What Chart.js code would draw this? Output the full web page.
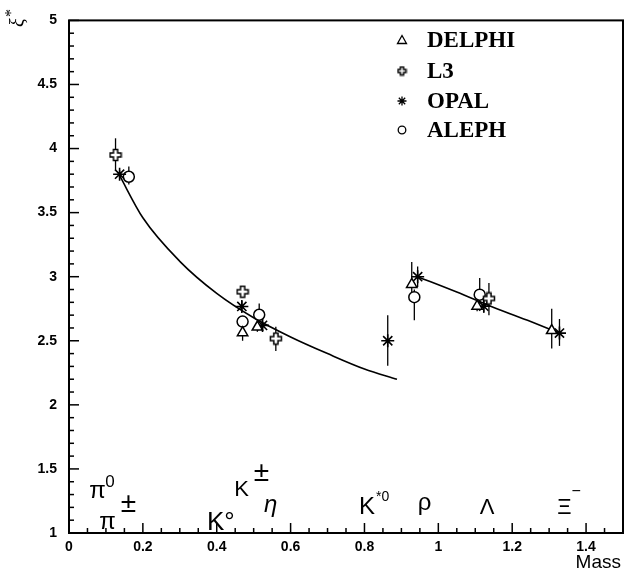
<!DOCTYPE html>
<html>
<head>
<meta charset="utf-8">
<script src="https://cdn.jsdelivr.net/npm/chart.js@4.4.0/dist/chart.umd.min.js"></script>
<style>
  html, body { margin: 0; padding: 0; background: #fff; }
  canvas { display: block; }
</style>
</head>
<body>
<canvas id="chart" width="624" height="573"></canvas>
<script>
// ===== DATA =====
const delphiMass = [0.470, 0.510, 0.928, 1.105, 1.307];
const delphiXi   = [2.563, 2.607, 2.94, 2.77, 2.58];
const delphiLo   = [2.50, 2.57, 2.86, 2.73, 2.44];
const delphiHi   = [2.62, 2.65, 3.115, 2.81, 2.75];

const l3Mass = [0.126, 0.470, 0.560, 1.137];
const l3Xi   = [3.95, 2.883, 2.517, 2.83];
const l3Lo   = [3.83, 2.85, 2.42, 2.70];
const l3Hi   = [4.08, 2.92, 2.61, 2.95];

const opalMass = [0.137, 0.468, 0.524, 0.863, 0.944, 1.123, 1.328];
const opalXi   = [3.80, 2.768, 2.62, 2.50, 3.00, 2.77, 2.56];
const opalLo   = [3.77, 2.73, 2.58, 2.305, 2.92, 2.72, 2.46];
const opalHi   = [3.83, 2.81, 2.66, 2.70, 3.08, 2.82, 2.67];

const alephMass = [0.162, 0.470, 0.515, 0.935, 1.112];
const alephXi   = [3.78, 2.65, 2.703, 2.84, 2.86];
const alephLo   = [3.72, 2.61, 2.66, 2.66, 2.79];
const alephHi   = [3.86, 2.69, 2.79, 2.90, 2.99];

// fitted curves
const mesonFitMass = [0.135, 0.2, 0.3, 0.4, 0.5, 0.6, 0.7, 0.8, 0.888];
const mesonFitXi   = [3.80, 3.46, 3.12, 2.87, 2.68, 2.53, 2.40, 2.28, 2.20];
const baryonFitMass = [0.944, 1.05, 1.15, 1.25, 1.328];
const baryonFitXi   = [3.00, 2.88, 2.76, 2.65, 2.56];

const experiments = ["DELPHI", "L3", "OPAL", "ALEPH"];
const xTicks = [0, 0.2, 0.4, 0.6, 0.8, 1, 1.2, 1.4];

// particle names along the bottom
const particleLabels = [
    { text: "π", x: 0.077, y: 1.276, size: 24 },
    { text: "0", x: 0.111, y: 1.360, size: 17 },
    { text: "π", x: 0.104, y: 1.031, size: 24 },
    { text: "±", x: 0.161, y: 1.161, size: 28 },
    { text: "K°", x: 0.411, y: 1.027, size: 26 },
    { text: "K", x: 0.467, y: 1.287, size: 22 },
    { text: "±", x: 0.521, y: 1.409, size: 28 },
    { text: "η", x: 0.546, y: 1.161, size: 24, italic: true },
    { text: "K", x: 0.807, y: 1.150, size: 24 },
    { text: "*0", x: 0.849, y: 1.250, size: 14 },
    { text: "ρ", x: 0.963, y: 1.176, size: 24 },
    { text: "Λ", x: 1.132, y: 1.150, size: 22 },
    { text: "Ξ", x: 1.341, y: 1.150, size: 22 },
    { text: "−", x: 1.373, y: 1.285, size: 16 }
];

const pts = (m, v) => m.map((x, i) => ({ x, y: v[i] }));
const fmt = v => String(Number(Number(v).toFixed(1)));

// open "plus" marker used by L3
function plusMarker(r, a) {
    const c = document.createElement("canvas");
    const s = Math.ceil(2 * r + 3);
    c.width = s; c.height = s;
    const g = c.getContext("2d");
    const o = s / 2;
    g.translate(o, o);
    g.beginPath();
    g.moveTo(-a, -r); g.lineTo(a, -r); g.lineTo(a, -a); g.lineTo(r, -a);
    g.lineTo(r, a); g.lineTo(a, a); g.lineTo(a, r); g.lineTo(-a, r);
    g.lineTo(-a, a); g.lineTo(-r, a); g.lineTo(-r, -a); g.lineTo(-a, -a);
    g.closePath();
    g.fillStyle = "#fff";
    g.fill();
    g.lineWidth = 1.5;
    g.strokeStyle = "#000";
    g.stroke();
    return c;
}
const l3Big = plusMarker(5.5, 2.1);
const l3Small = plusMarker(4, 1.6);

const errSets = [
    [delphiMass, delphiLo, delphiHi],
    [l3Mass, l3Lo, l3Hi],
    [opalMass, opalLo, opalHi],
    [alephMass, alephLo, alephHi]
];

// ===== DECORATION PLUGIN =====
const decor = {
    id: "decor",
    beforeDatasetsDraw(chart) {
        const { ctx, scales: { x, y } } = chart;
        ctx.save();
        ctx.strokeStyle = "#000";
        ctx.lineWidth = 1.3;
        errSets.forEach(([m, lo, hi]) => {
            m.forEach((mv, i) => {
                const px = x.getPixelForValue(mv);
                ctx.beginPath();
                ctx.moveTo(px, y.getPixelForValue(lo[i]));
                ctx.lineTo(px, y.getPixelForValue(hi[i]));
                ctx.stroke();
            });
        });
        ctx.restore();
    },
    afterDraw(chart) {
        const { ctx, chartArea: a, scales: { x, y } } = chart;
        ctx.save();
        ctx.strokeStyle = "#000";

        // frame
        ctx.lineWidth = 2;
        ctx.strokeRect(a.left, a.top, a.right - a.left, a.bottom - a.top);

        // inward ticks
        ctx.lineWidth = 1.5;
        for (let i = 0; i <= 40; i++) {
            const py = y.getPixelForValue(1 + i * 0.1);
            const len = i % 5 === 0 ? 10 : 5;
            ctx.beginPath();
            ctx.moveTo(a.left, py);
            ctx.lineTo(a.left + len, py);
            ctx.stroke();
        }
        for (let i = 0; i <= 30; i++) {
            const px = x.getPixelForValue(i * 0.05);
            const len = i % 4 === 0 ? 10 : 5;
            ctx.beginPath();
            ctx.moveTo(px, a.bottom);
            ctx.lineTo(px, a.bottom - len);
            ctx.stroke();
        }

        // particle names
        ctx.fillStyle = "#000";
        ctx.textAlign = "center";
        ctx.textBaseline = "alphabetic";
        particleLabels.forEach(l => {
            ctx.font = (l.italic ? "italic " : "") + l.size + "px 'Liberation Sans', Arial, sans-serif";
            ctx.fillText(l.text, x.getPixelForValue(l.x), y.getPixelForValue(l.y));
        });

        // legend
        const rows = [40, 71, 101, 130];
        const mx = 402;
        ctx.textAlign = "left";
        ctx.textBaseline = "middle";
        ctx.font = "bold 23px 'Liberation Serif', 'Times New Roman', serif";
        experiments.forEach((name, i) => {
            const cy = rows[i];
            ctx.lineWidth = 1.3;
            if (i === 0) {
                ctx.beginPath();
                ctx.moveTo(mx, cy - 4.5);
                ctx.lineTo(mx + 4.5, cy + 3.5);
                ctx.lineTo(mx - 4.5, cy + 3.5);
                ctx.closePath();
                ctx.stroke();
            } else if (i === 1) {
                ctx.drawImage(l3Small, mx - l3Small.width / 2, cy - l3Small.height / 2);
            } else if (i === 2) {
                ctx.beginPath();
                for (let k = 0; k < 4; k++) {
                    const ang = k * Math.PI / 4;
                    ctx.moveTo(mx - 4.5 * Math.sin(ang), cy - 4.5 * Math.cos(ang));
                    ctx.lineTo(mx + 4.5 * Math.sin(ang), cy + 4.5 * Math.cos(ang));
                }
                ctx.stroke();
            } else {
                ctx.beginPath();
                ctx.arc(mx, cy, 3.8, 0, Math.PI * 2);
                ctx.stroke();
            }
            ctx.fillText(name, 427, cy + 1);
        });

        // axis titles
        ctx.font = "19px 'Liberation Sans', Arial, sans-serif";
        ctx.textAlign = "right";
        ctx.textBaseline = "alphabetic";
        ctx.fillText("Mass", 621, 568);

        ctx.translate(24, 27);
        ctx.rotate(-Math.PI / 2);
        ctx.textAlign = "left";
        ctx.font = "italic 20px 'Liberation Serif', serif";
        ctx.fillText("ξ", 0, 0);
        ctx.font = "16px 'Liberation Serif', serif";
        ctx.fillText("*", 10, -8);
        ctx.restore();
    }
};

const tickFont = { family: "'Liberation Sans', Arial, sans-serif", size: 14, weight: "bold" };

new Chart(document.getElementById("chart"), {
    type: "scatter",
    data: {
        datasets: [
            { label: "DELPHI", data: pts(delphiMass, delphiXi), pointStyle: "triangle", pointRadius: 6,
              backgroundColor: "#fff", borderColor: "#000", borderWidth: 1.5 },
            { label: "L3", data: pts(l3Mass, l3Xi), pointStyle: l3Big, pointRadius: 6,
              backgroundColor: "#fff", borderColor: "#000", borderWidth: 1.5 },
            { label: "OPAL", data: pts(opalMass, opalXi), pointStyle: "star", pointRadius: 6.5,
              backgroundColor: "#fff", borderColor: "#000", borderWidth: 1.6 },
            { label: "ALEPH", data: pts(alephMass, alephXi), pointStyle: "circle", pointRadius: 5.5,
              backgroundColor: "#fff", borderColor: "#000", borderWidth: 1.5 },
            { label: "fit mesons", data: pts(mesonFitMass, mesonFitXi), showLine: true, pointRadius: 0,
              borderColor: "#000", borderWidth: 1.6, cubicInterpolationMode: "monotone" },
            { label: "fit baryons", data: pts(baryonFitMass, baryonFitXi), showLine: true, pointRadius: 0,
              borderColor: "#000", borderWidth: 1.6, cubicInterpolationMode: "monotone" }
        ]
    },
    options: {
        responsive: false,
        animation: false,
        devicePixelRatio: 1,
        layout: { autoPadding: false, padding: { top: 11, right: 1, left: 0, bottom: 0 } },
        plugins: { legend: { display: false }, tooltip: { enabled: false } },
        scales: {
            x: {
                type: "linear",
                min: 0,
                max: 1.5,
                afterFit: s => { s.height = 40; s.paddingRight = 0; s.paddingLeft = 0; },
                afterBuildTicks: s => { s.ticks = xTicks.map(v => ({ value: v })); },
                grid: { display: false, drawTicks: false },
                border: { display: false },
                ticks: { color: "#000", font: tickFont, padding: 6, maxRotation: 0, callback: fmt }
            },
            y: {
                min: 1,
                max: 5,
                afterFit: s => { s.width = 69; },
                grid: { display: false, drawTicks: false },
                border: { display: false },
                ticks: { color: "#000", font: tickFont, stepSize: 0.5, padding: 12, callback: fmt }
            }
        }
    },
    plugins: [decor]
});
</script>
</body>
</html>
